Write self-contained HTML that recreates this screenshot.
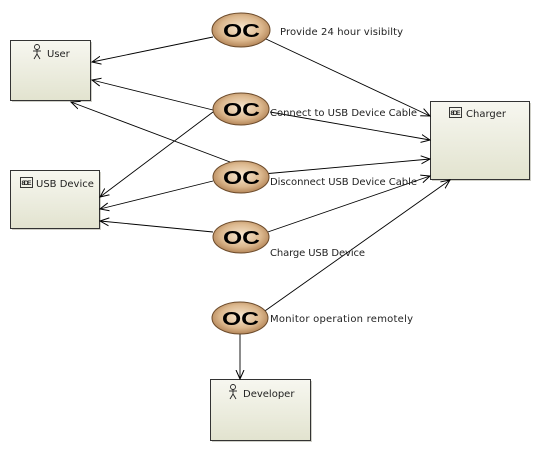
<!DOCTYPE html>
<html><head><meta charset="utf-8"><style>
html,body{margin:0;padding:0;background:#fff;width:541px;height:453px;overflow:hidden}
text{font-family:"DejaVu Sans","Liberation Sans",sans-serif;font-size:10px;fill:#222}
.oc{font-family:"Liberation Sans",sans-serif;font-weight:bold;font-size:18px;fill:#000}
.ic{font-family:"Liberation Sans",sans-serif;font-size:6.5px;font-weight:bold}
</style></head><body>
<svg width="541" height="453" xmlns="http://www.w3.org/2000/svg">
<defs>
<radialGradient id="g" cx="50%" cy="45%" r="60%">
<stop offset="0" stop-color="#f6e6cf"/><stop offset="0.6" stop-color="#dcb88e"/><stop offset="1" stop-color="#a9784a"/>
</radialGradient>
<linearGradient id="b" x1="0" y1="0" x2="0" y2="1">
<stop offset="0" stop-color="#f7f7f0"/><stop offset="1" stop-color="#e2e3cf"/>
</linearGradient>
<marker id="a" markerWidth="10" markerHeight="10" refX="9" refY="5" orient="auto" markerUnits="userSpaceOnUse">
<path d="M0,1 L9,5 L0,9" fill="none" stroke="#000" stroke-width="1"/>
</marker>
</defs>
<g fill="#d0d0c8">
<rect x="12" y="42" width="80" height="60"/><rect x="12" y="172" width="89" height="58"/>
<rect x="432" y="103" width="99" height="78"/><rect x="212" y="381" width="100" height="61"/>
</g>
<g fill="url(#b)" stroke="#333" stroke-width="1">
<rect x="10.5" y="40.5" width="80" height="60"/>
<rect x="10.5" y="170.5" width="89" height="58"/>
<rect x="430.5" y="101.5" width="99" height="78"/>
<rect x="210.5" y="379.5" width="100" height="61"/>
</g>
<g stroke="#000" stroke-width="0.9" fill="none" marker-end="url(#a)">
<line x1="213" y1="37" x2="92" y2="62"/>
<line x1="213" y1="110" x2="92" y2="80"/>
<line x1="230" y1="162" x2="71" y2="102"/>
<line x1="213" y1="112" x2="100" y2="197"/>
<line x1="213" y1="181" x2="100" y2="209"/>
<line x1="213" y1="232" x2="100" y2="221"/>
<line x1="266" y1="39" x2="430" y2="116"/>
<line x1="270" y1="112" x2="430" y2="140"/>
<line x1="263" y1="174" x2="430" y2="159"/>
<line x1="262" y1="234" x2="430" y2="176"/>
<line x1="262" y1="313" x2="450" y2="180"/>
<line x1="240" y1="334" x2="240" y2="379"/>
</g>
<g stroke="#6b4a2a" stroke-width="1" fill="url(#g)">
<ellipse cx="241" cy="30" rx="29" ry="17"/>
<ellipse cx="241" cy="109" rx="28" ry="16"/>
<ellipse cx="241" cy="177" rx="28" ry="16"/>
<ellipse cx="241" cy="237" rx="28" ry="16"/>
<ellipse cx="240" cy="318" rx="28" ry="16"/>
</g>
<g>
<text class="oc" x="223" y="37" textLength="37" lengthAdjust="spacingAndGlyphs">OC</text>
<text class="oc" x="223" y="116" textLength="37" lengthAdjust="spacingAndGlyphs">OC</text>
<text class="oc" x="223" y="184" textLength="37" lengthAdjust="spacingAndGlyphs">OC</text>
<text class="oc" x="223" y="244" textLength="37" lengthAdjust="spacingAndGlyphs">OC</text>
<text class="oc" x="222" y="325" textLength="37" lengthAdjust="spacingAndGlyphs">OC</text>
</g>
<text x="280" y="35" textLength="123">Provide 24 hour visibilty</text>
<text x="270" y="116" textLength="147">Connect to USB Device Cable</text>
<text x="270" y="185" textLength="147">Disconnect USB Device Cable</text>
<text x="270" y="256" textLength="95">Charge USB Device</text>
<text x="270" y="322" textLength="143">Monitor operation remotely</text>
<g stroke="#222" stroke-width="0.9" fill="none">
<circle cx="37" cy="47" r="2.5"/><line x1="37" y1="49.5" x2="37" y2="54"/><line x1="33" y1="51" x2="41" y2="51"/><line x1="37" y1="54" x2="34" y2="59"/><line x1="37" y1="54" x2="40" y2="59"/>
<circle cx="233" cy="387" r="2.5"/><line x1="233" y1="389.5" x2="233" y2="394"/><line x1="229" y1="391" x2="237" y2="391"/><line x1="233" y1="394" x2="230" y2="399"/><line x1="233" y1="394" x2="236" y2="399"/>
<rect x="20.5" y="177.5" width="12" height="10"/>
<rect x="449.5" y="107.5" width="12" height="10"/>
</g>
<text x="47" y="57">User</text>
<text x="243" y="397">Developer</text>
<text class="ic" x="21.5" y="185" textLength="10">8DE</text>
<text x="36" y="187">USB Device</text>
<text class="ic" x="450.5" y="115" textLength="10">8DE</text>
<text x="466" y="117">Charger</text>
</svg>
</body></html>
